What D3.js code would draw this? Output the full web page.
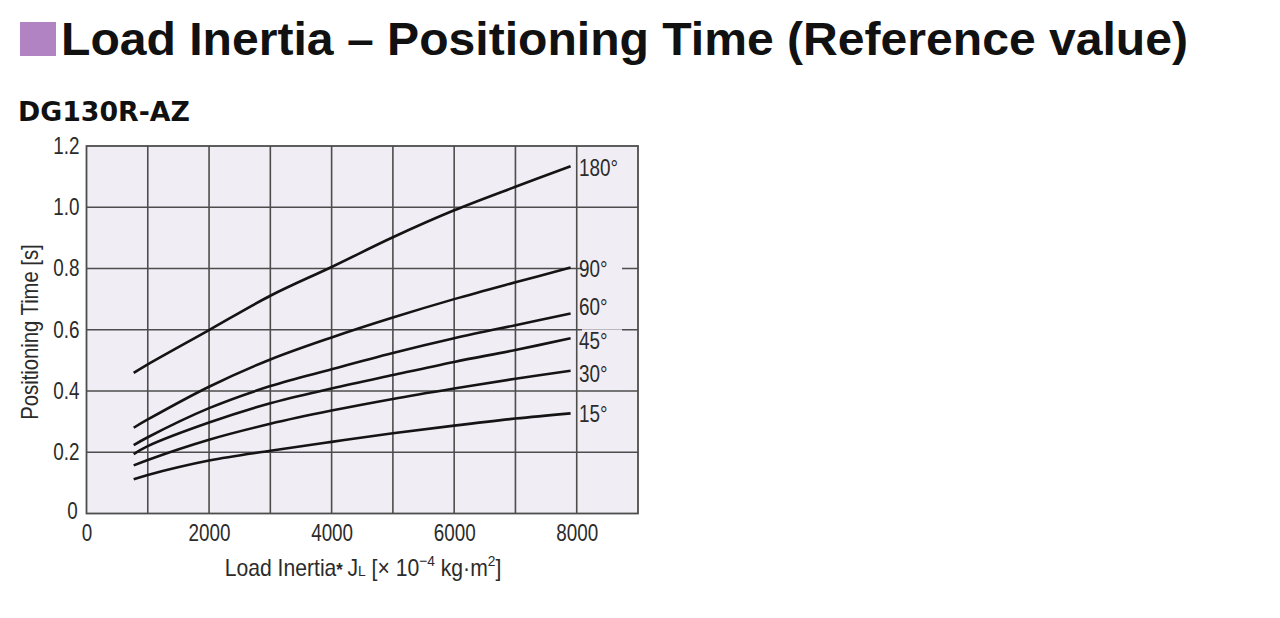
<!DOCTYPE html>
<html lang="en">
<head>
<meta charset="UTF-8">
<title>Load Inertia – Positioning Time</title>
<script src="https://d3js.org/d3.v7.min.js"></script>
<style>
  body { margin: 0; background: #fff; }
  .narrow { font-family: "Liberation Sans", Arial, sans-serif; fill: #2b2b2b; }
</style>
</head>
<body>
<svg width="1280" height="618"></svg>
<script>
// values
var inertia = [770, 1000, 2000, 3000, 4000, 5000, 6000, 7000, 7900];
var angles = ['180°', '90°', '60°', '45°', '30°', '15°'];
var time180 = [0.459, 0.487, 0.599, 0.711, 0.805, 0.902, 0.990, 1.067, 1.134];
var time90  = [0.280, 0.307, 0.414, 0.503, 0.575, 0.640, 0.700, 0.755, 0.803];
var time60  = [0.223, 0.249, 0.344, 0.416, 0.471, 0.524, 0.572, 0.615, 0.653];
var time45  = [0.194, 0.220, 0.297, 0.360, 0.408, 0.452, 0.495, 0.534, 0.572];
var time30  = [0.157, 0.175, 0.241, 0.293, 0.336, 0.374, 0.408, 0.440, 0.466];
var time15  = [0.112, 0.126, 0.173, 0.205, 0.234, 0.262, 0.287, 0.310, 0.327];
var xGrid = [1000, 2000, 3000, 4000, 5000, 6000, 7000, 8000];
var xTicks = [0, 2000, 4000, 6000, 8000];
var yTicks = [0, 0.2, 0.4, 0.6, 0.8, 1.0, 1.2];

var series = [time180, time90, time60, time45, time30, time15];

var svg = d3.select('svg');
var squeeze = ' scale(0.82,1)';

// title
svg.append('rect').attr('x', 20).attr('y', 22).attr('width', 36).attr('height', 34).attr('fill', '#b283c2');
svg.append('text').attr('x', 61).attr('y', 55)
    .attr('font-family', '"Liberation Sans", Arial, sans-serif').attr('font-weight', 'bold')
    .attr('font-size', 46).attr('fill', '#111')
    .attr('textLength', 1127).attr('lengthAdjust', 'spacingAndGlyphs')
    .text('Load Inertia – Positioning Time (Reference value)');
svg.append('text').attr('x', 18).attr('y', 121)
    .attr('font-family', '"DejaVu Sans", sans-serif').attr('font-weight', 'bold')
    .attr('font-size', 27).attr('fill', '#111')
    .attr('textLength', 172).attr('lengthAdjust', 'spacingAndGlyphs')
    .text('DG130R-AZ');

// scales
var x = d3.scaleLinear().domain([0, 9000]).range([86.5, 638]);
var y = d3.scaleLinear().domain([0, 1.2]).range([513.5, 146]);

var plot = svg.append('g');
plot.append('rect')
    .attr('x', x(0)).attr('y', y(1.2))
    .attr('width', x(9000) - x(0)).attr('height', y(0) - y(1.2))
    .attr('fill', '#f1edf4');

var gridColor = '#4d4d4d';
plot.selectAll('.vgrid').data(xGrid).enter().append('line')
    .attr('x1', d => x(d)).attr('x2', d => x(d))
    .attr('y1', y(0)).attr('y2', y(1.2))
    .attr('stroke', gridColor).attr('stroke-width', 1.6);
plot.selectAll('.hgrid').data(yTicks.slice(1, -1)).enter().append('line')
    .attr('x1', x(0)).attr('x2', x(9000))
    .attr('y1', d => y(d)).attr('y2', d => y(d))
    .attr('stroke', gridColor).attr('stroke-width', 1.6);

// curve label masks hide the gridlines behind the text
var nudge = [2, 1, -7, 2, 3, 0];
var labels = plot.selectAll('.lbl').data(series).enter().append('g')
    .attr('transform', (d, i) => 'translate(0,' + (y(d[d.length - 1]) + nudge[i]) + ')');
labels.append('rect')
    .attr('x', 582).attr('y', -11).attr('width', 40).attr('height', 22)
    .attr('fill', '#f1edf4');

plot.append('rect')
    .attr('x', x(0)).attr('y', y(1.2))
    .attr('width', x(9000) - x(0)).attr('height', y(0) - y(1.2))
    .attr('fill', 'none').attr('stroke', gridColor).attr('stroke-width', 1.8);

var line = d3.line()
    .x((d, i) => x(inertia[i]))
    .y(d => y(d))
    .curve(d3.curveCatmullRom);

plot.selectAll('.curve').data(series).enter().append('path')
    .attr('d', line)
    .attr('fill', 'none').attr('stroke', '#141414').attr('stroke-width', 2.6);

labels.append('text')
    .attr('class', 'narrow')
    .attr('transform', 'translate(579,0)' + squeeze)
    .attr('dy', '0.36em')
    .attr('font-size', 23)
    .text((d, i) => angles[i]);

// axes
var yAxis = svg.append('g').attr('transform', 'translate(' + (x(0) - 7) + ',0)')
    .call(d3.axisLeft(y).tickValues(yTicks).tickSize(0)
        .tickFormat(d => d === 0 ? '0' : d3.format('.1f')(d)));
yAxis.select('.domain').remove();
yAxis.selectAll('text').attr('class', 'narrow').attr('font-size', 23)
    .attr('x', d => d === 0 ? -2 : 0)
    .attr('dy', d => d === 0 ? '0.2em' : '0.32em')
    .attr('transform', squeeze);

var xAxis = svg.append('g').attr('transform', 'translate(0,' + (y(0) + 9) + ')')
    .call(d3.axisBottom(x).tickValues(xTicks).tickSize(0).tickFormat(d3.format('d')));
xAxis.select('.domain').remove();
xAxis.selectAll('text').attr('class', 'narrow').attr('font-size', 23).attr('dy', '0.68em')
    .attr('transform', squeeze);

// axis titles
svg.append('text').attr('class', 'narrow')
    .attr('transform', 'translate(38,332) rotate(-90) scale(0.88,1)')
    .attr('text-anchor', 'middle').attr('font-size', 23)
    .text('Positioning Time [s]');

var xt = svg.append('text').attr('class', 'narrow')
    .attr('transform', 'translate(363,576) scale(0.92,1)')
    .attr('text-anchor', 'middle').attr('font-size', 23);
xt.append('tspan').text('Load Inertia');
xt.append('tspan').attr('font-weight', 'bold').attr('font-size', 18).text('* ');
xt.append('tspan').text('J');
xt.append('tspan').attr('font-size', 15).text('L');
xt.append('tspan').text(' [× 10');
xt.append('tspan').attr('font-size', 15).attr('dy', -10).text('−4');
xt.append('tspan').attr('dy', 10).text(' kg·m');
xt.append('tspan').attr('font-size', 15).attr('dy', -10).text('2');
xt.append('tspan').attr('dy', 10).text(']');
</script>
</body>
</html>
